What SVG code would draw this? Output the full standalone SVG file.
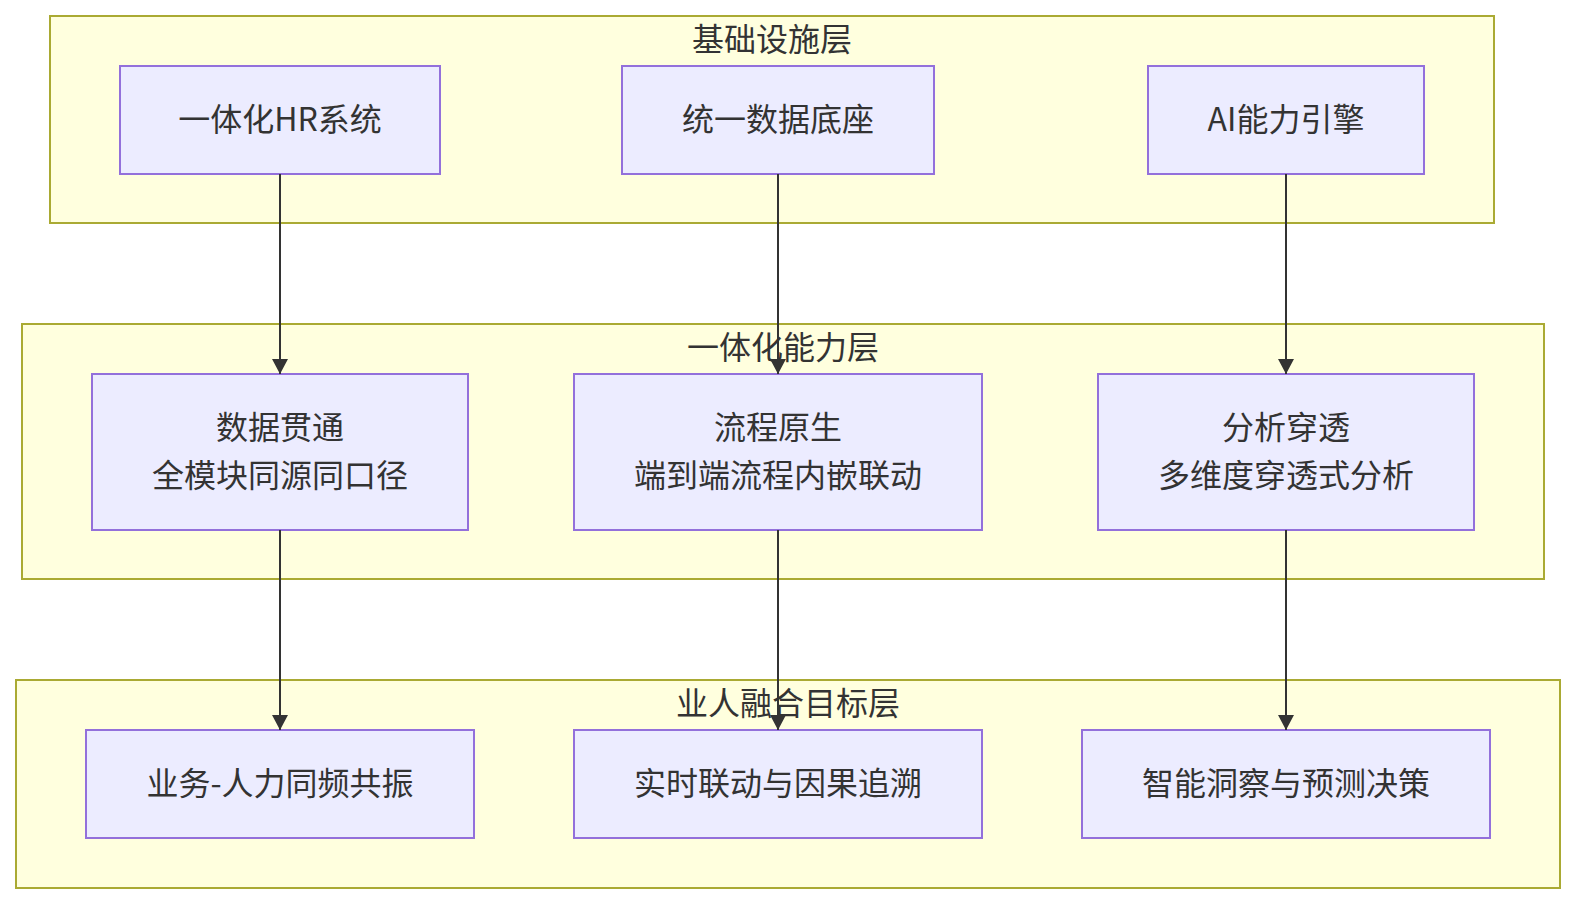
<svg xmlns="http://www.w3.org/2000/svg" width="1575" height="904" viewBox="0 0 1575 904">
<defs>
<style>
.cluster{fill:#ffffde;stroke:#aaaa33;stroke-width:2}
.node{fill:#ececff;stroke:#9370db;stroke-width:2}
text{font-family:"Noto Sans CJK SC","Noto Sans",sans-serif;font-size:32px;fill:#333;text-anchor:middle;dominant-baseline:central}
.edge{stroke:#333;stroke-width:2;fill:none}
</style>
<marker id="arrow" viewBox="0 0 15 16" refX="15" refY="8" markerWidth="15" markerHeight="16" markerUnits="userSpaceOnUse" orient="auto">
<path d="M0,0 L15,8 L0,16 z" fill="#333"/>
</marker>
</defs>
<rect width="1575" height="904" fill="#fff"/>
<g id="cluster-infra">
<rect class="cluster" x="50" y="16" width="1444" height="207"/>
<text x="772" y="37">基础设施层</text>
</g>
<g id="cluster-capability">
<rect class="cluster" x="22" y="324" width="1522" height="255"/>
<text x="783" y="345">一体化能力层</text>
</g>
<g id="cluster-goal">
<rect class="cluster" x="16" y="680" width="1544" height="208"/>
<text x="788" y="701">业人融合目标层</text>
</g>
<g id="node-hr">
<rect class="node" x="120" y="66" width="320" height="108"/>
<text x="280" y="117">一体化HR系统</text>
</g>
<g id="node-data">
<rect class="node" x="622" y="66" width="312" height="108"/>
<text x="778" y="117">统一数据底座</text>
</g>
<g id="node-ai">
<rect class="node" x="1148" y="66" width="276" height="108"/>
<text x="1286" y="117">AI能力引擎</text>
</g>
<g id="node-datathrough">
<rect class="node" x="92" y="374" width="376" height="156"/>
<text x="280" y="425">数据贯通</text>
<text x="280" y="473">全模块同源同口径</text>
</g>
<g id="node-process">
<rect class="node" x="574" y="374" width="408" height="156"/>
<text x="778" y="425">流程原生</text>
<text x="778" y="473">端到端流程内嵌联动</text>
</g>
<g id="node-analysis">
<rect class="node" x="1098" y="374" width="376" height="156"/>
<text x="1286" y="425">分析穿透</text>
<text x="1286" y="473">多维度穿透式分析</text>
</g>
<g id="node-resonance">
<rect class="node" x="86" y="730" width="388" height="108"/>
<text x="280" y="781">业务-人力同频共振</text>
</g>
<g id="node-realtime">
<rect class="node" x="574" y="730" width="408" height="108"/>
<text x="778" y="781">实时联动与因果追溯</text>
</g>
<g id="node-insight">
<rect class="node" x="1082" y="730" width="408" height="108"/>
<text x="1286" y="781">智能洞察与预测决策</text>
</g>
<g id="connectors">
<line class="edge" x1="280" y1="174" x2="280" y2="374" marker-end="url(#arrow)"/>
<line class="edge" x1="778" y1="174" x2="778" y2="374" marker-end="url(#arrow)"/>
<line class="edge" x1="1286" y1="174" x2="1286" y2="374" marker-end="url(#arrow)"/>
<line class="edge" x1="280" y1="530" x2="280" y2="730" marker-end="url(#arrow)"/>
<line class="edge" x1="778" y1="530" x2="778" y2="730" marker-end="url(#arrow)"/>
<line class="edge" x1="1286" y1="530" x2="1286" y2="730" marker-end="url(#arrow)"/>
</g>
</svg>
